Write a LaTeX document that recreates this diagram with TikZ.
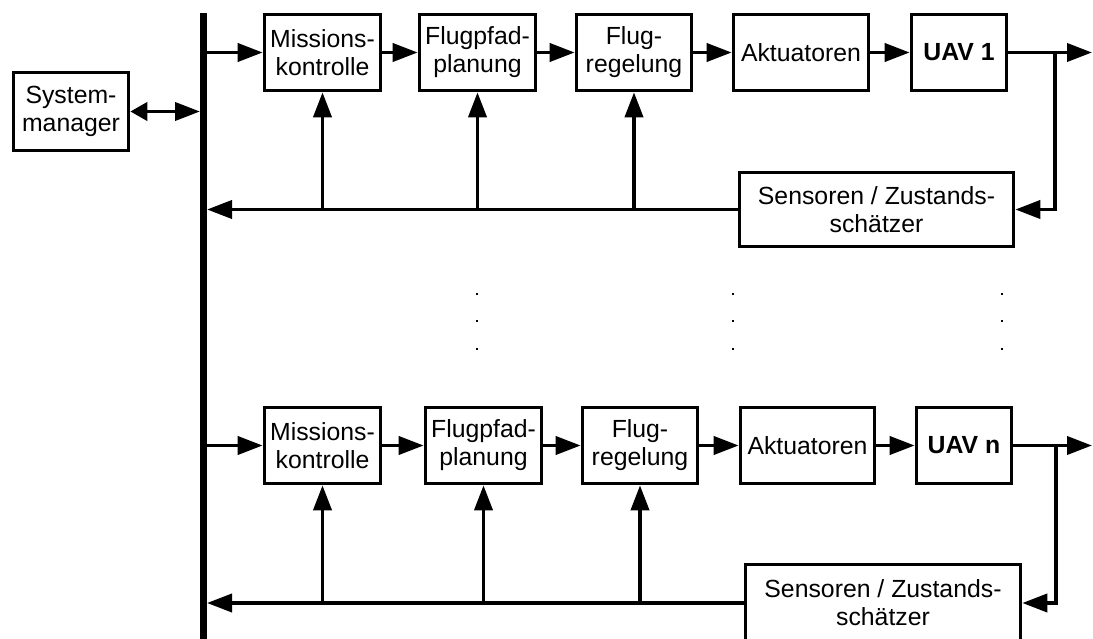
\documentclass[tikz,border=0pt]{standalone}
\usepackage{fontspec}
\setmainfont{Liberation Sans}
\usetikzlibrary{arrows.meta}

\tikzset{
  blk/.style={draw, line width=3.6pt, rectangle, align=center, inner sep=0pt,
    font=\fontsize{24.8}{28}\selectfont},
  conn/.style={line width=3.8pt, -{Triangle[length=25pt,width=18pt]}},
  bus/.style={line width=7pt},
  vdot/.style={fill=black}
}

\begin{document}
\begin{tikzpicture}[x=1pt,y=-1pt]
  \clip (0,0) rectangle (1093,639);
  \fill[white] (0,0) rectangle (1093,639);

  % communication bus
  \draw[bus] (203.5,13) -- (203.5,645);
  \coordinate (busR) at (207,0);
  \coordinate (busL) at (200,0);

  % system manager
  \node[blk, minimum width=115pt, minimum height=78pt] (sm) at (71,111.5) {System-\\manager};
  \draw[line width=3.8pt, {Triangle[length=17pt,width=18pt]}-{Triangle[length=25pt,width=18pt]}]
    (sm.east) -- (sm.east -| busL);

  % ---- first vehicle chain ----
  \node[blk, minimum width=116pt, minimum height=76pt] (m1) at (322.5,52.5) {Missions-\\kontrolle};
  \node[blk, minimum width=116pt, minimum height=76pt] (f1) at (477.5,52.5) {Flugpfad-\\planung};
  \node[blk, minimum width=115pt, minimum height=76pt] (r1) at (634,52.5) {Flug-\\regelung};
  \node[blk, minimum width=135pt, minimum height=76pt] (a1) at (801,52.5) {Aktuatoren};
  \node[blk, minimum width=95pt, minimum height=76pt] (u1) at (959,52.5) {\bfseries UAV 1};
  \node[blk, minimum width=274pt, minimum height=74pt] (s1) at (876.5,209.5) {Sensoren / Zustands-\\schätzer};
  \coordinate (out1) at (1092,52.5);
  \coordinate (br1) at (1055,52.5);

  \draw[conn] (m1.west -| busR) -- (m1.west);
  \draw[conn] (m1) -- (f1);
  \draw[conn] (f1) -- (r1);
  \draw[conn] (r1) -- (a1);
  \draw[conn] (a1) -- (u1);
  \draw[conn] (u1.east) -- (out1);
  \draw[conn] (br1) |- (s1.east);
  \draw[conn] (s1.west) -- (s1.west -| busR);
  \draw[conn] (m1.south |- s1.west) -- (m1.south);
  \draw[conn] (f1.south |- s1.west) -- (f1.south);
  \draw[conn] (r1.south |- s1.west) -- (r1.south);

  % ellipsis between the chains
  \foreach \x in {477,733,1002}
    \foreach \y in {294,321,349}
      \fill[vdot] (\x-1.3,\y-1.3) rectangle (\x+1.3,\y+1.3);

  % ---- last vehicle chain ----
  \node[blk, minimum width=116pt, minimum height=76pt] (m2) at (322.5,445.5) {Missions-\\kontrolle};
  \node[blk, minimum width=116pt, minimum height=76pt] (f2) at (483.5,445.5) {Flugpfad-\\planung};
  \node[blk, minimum width=115pt, minimum height=76pt] (r2) at (640,445.5) {Flug-\\regelung};
  \node[blk, minimum width=134pt, minimum height=76pt] (a2) at (807.5,445.5) {Aktuatoren};
  \node[blk, minimum width=95pt, minimum height=76pt] (u2) at (964,445.5) {\bfseries UAV n};
  \node[blk, minimum width=275pt, minimum height=77pt] (s2) at (883,603) {Sensoren / Zustands-\\schätzer};
  \coordinate (out2) at (1092,445.5);
  \coordinate (br2) at (1056,445.5);

  \draw[conn] (m2.west -| busR) -- (m2.west);
  \draw[conn] (m2) -- (f2);
  \draw[conn] (f2) -- (r2);
  \draw[conn] (r2) -- (a2);
  \draw[conn] (a2) -- (u2);
  \draw[conn] (u2.east) -- (out2);
  \draw[conn] (br2) |- (s2.east);
  \draw[conn] (s2.west) -- (s2.west -| busR);
  \draw[conn] (m2.south |- s2.west) -- (m2.south);
  \draw[conn] (f2.south |- s2.west) -- (f2.south);
  \draw[conn] (r2.south |- s2.west) -- (r2.south);
\end{tikzpicture}
\end{document}
